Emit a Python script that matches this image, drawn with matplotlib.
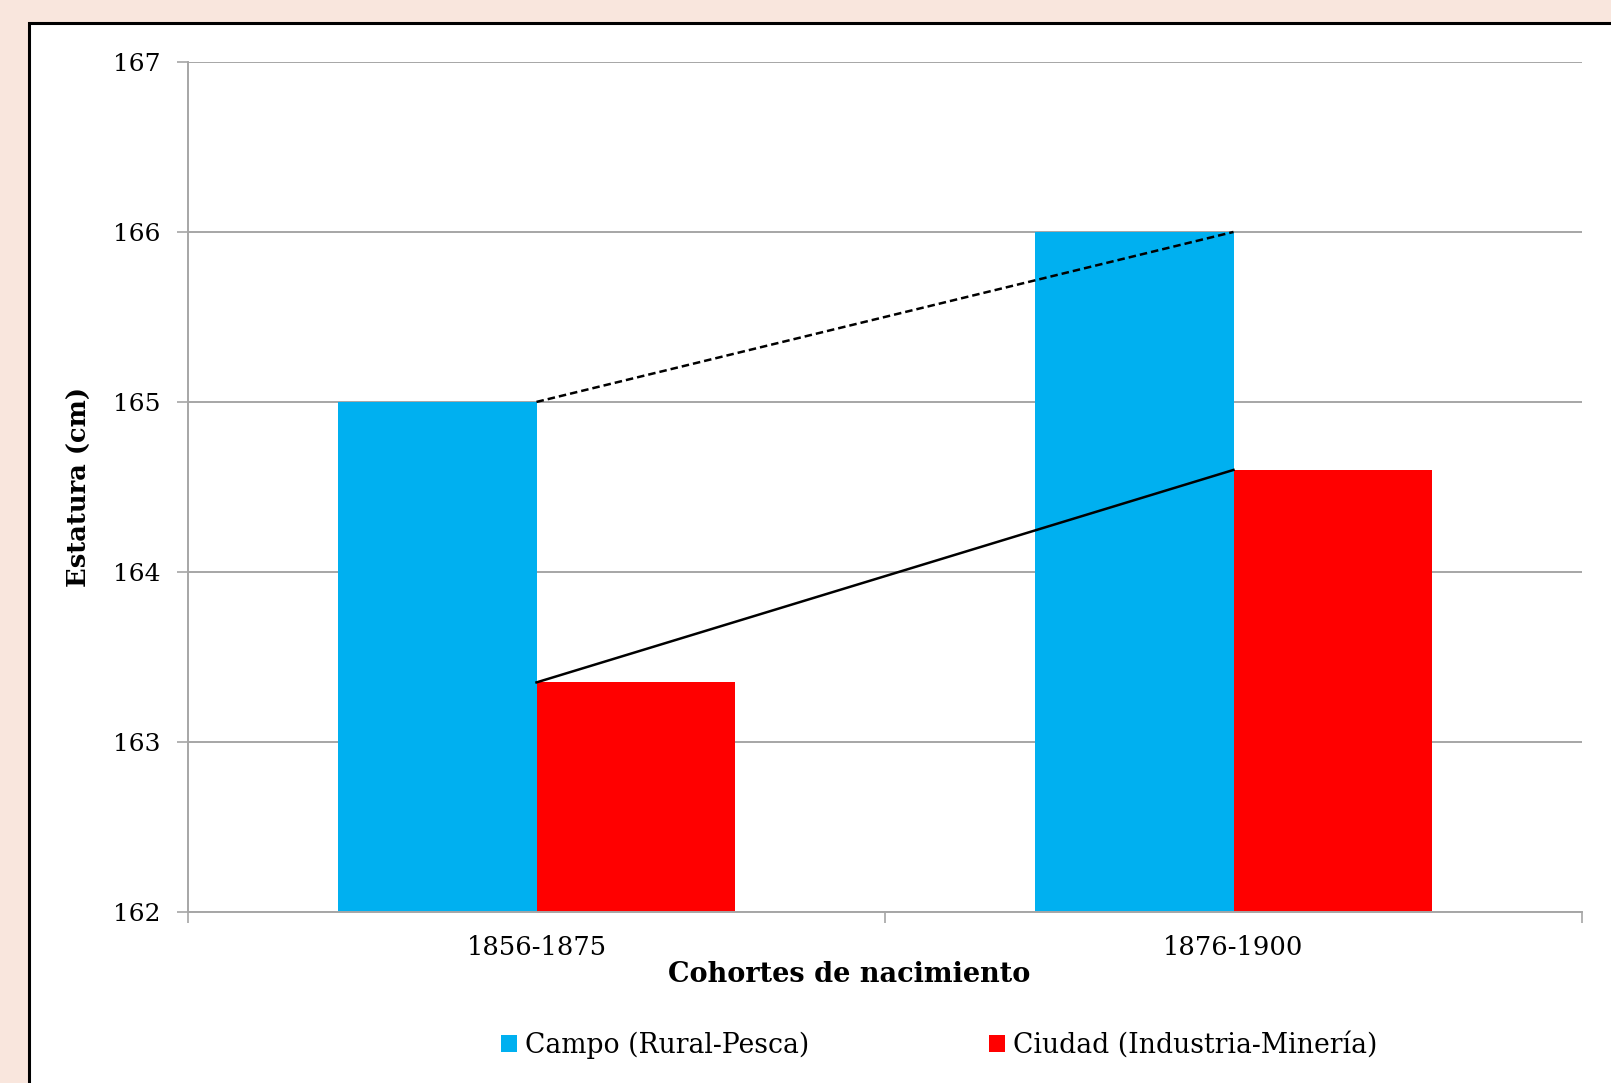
import matplotlib
matplotlib.use("Agg")
import matplotlib.pyplot as plt
from matplotlib.patches import Rectangle
import numpy as np

# data
cohorts = ["1856-1875", "1876-1900"]
campo = [165.0, 166.0]
ciudad = [163.35, 164.6]
y_ticks = [162, 163, 164, 165, 166, 167]

plt.rcParams["font.family"] = ["DejaVu Serif"]

fig = plt.figure(figsize=(16.11, 10.83), dpi=100)
fig.patch.set_facecolor("#F9E6DD")

# white panel with a black frame (runs off the right and bottom edges)
fig.patches.append(Rectangle((0.018, -0.02), 1.0, 0.9988,
                             transform=fig.transFigure, facecolor="white",
                             edgecolor="black", linewidth=2.2, zorder=-10))

ax = fig.add_axes([0.1167, 0.158, 0.8653, 0.7848])
ax.set_facecolor("none")

x = np.arange(len(cohorts))
w = 0.285
ax.bar(x - w / 2, campo, width=w, color="#00B0F0",
       label="Campo (Rural-Pesca)", zorder=2)
ax.bar(x + w / 2, ciudad, width=w, color="#FF0000",
       label="Ciudad (Industria-Minería)", zorder=2)

# trend lines joining the bar tops at the category centres
ax.plot(x, campo, color="black", linestyle=(0, (3, 1.6)), linewidth=1.8, zorder=3)
ax.plot(x, ciudad, color="black", linestyle="-", linewidth=1.8, zorder=3)

ax.set_ylim(162, 167)
ax.set_xlim(-0.5, len(cohorts) - 0.5)
ax.set_yticks(y_ticks)
ax.set_yticklabels([str(t) for t in y_ticks])
ax.yaxis.grid(True, color="#A6A6A6", linewidth=1.4, zorder=1)
ax.set_axisbelow(True)

ax.set_xticks(x)
ax.set_xticklabels(cohorts)
ax.set_xticks(np.arange(-0.5, len(cohorts), 1.0), minor=True)
ax.tick_params(axis="x", which="major", length=0, pad=17, labelsize=18.5)
ax.tick_params(axis="x", which="minor", length=8, width=1.2, color="#A6A6A6")
ax.tick_params(axis="y", length=8, width=1.2, color="#A6A6A6", pad=12, labelsize=18)

for side in ("top", "right"):
    ax.spines[side].set_visible(False)
for side in ("left", "bottom"):
    ax.spines[side].set_color("#A6A6A6")
    ax.spines[side].set_linewidth(1.4)

ax.set_ylabel("Estatura (cm)", fontsize=18.5, fontweight="bold", labelpad=15)
ax.set_xlabel("Cohortes de nacimiento", fontsize=19.5, fontweight="bold")
ax.xaxis.set_label_coords(0.4745, -0.058)

fig.legend(loc="center", bbox_to_anchor=(0.583, 0.035), ncol=2, frameon=False,
           fontsize=19.2, handlelength=0.6, handleheight=0.6, handletextpad=0.3,
           columnspacing=6.75)

plt.savefig("out.png", dpi=100, facecolor=fig.get_facecolor())
